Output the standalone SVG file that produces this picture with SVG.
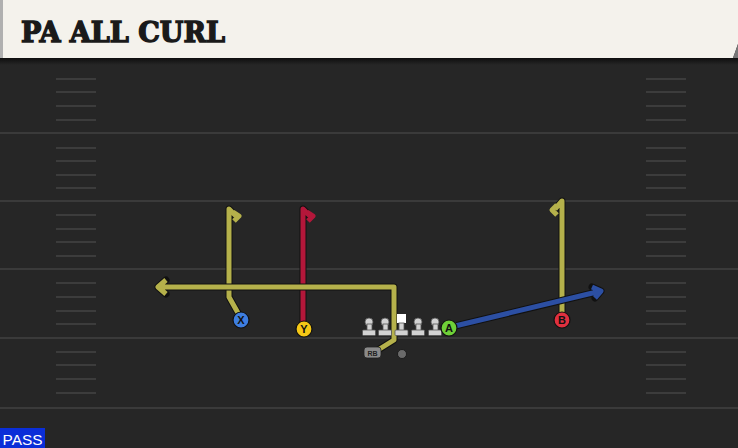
<svg xmlns="http://www.w3.org/2000/svg" width="738" height="448" viewBox="0 0 738 448">
<defs>
<style>
.yl{stroke:#3a3a3a;stroke-width:2}
.hash{stroke:#3c3c3c;stroke-width:2}
.out{fill:none;stroke:#111;stroke-width:7;stroke-linejoin:round;stroke-linecap:round}
.olive{fill:none;stroke:#b5b14b;stroke-width:5;stroke-linejoin:round}
.red{fill:none;stroke:#b3173a;stroke-width:5;stroke-linejoin:round}
.blue{fill:none;stroke:#2c4fa3;stroke-width:5;stroke-linejoin:round}
.lbl{font-family:"Liberation Sans",Arial,sans-serif;font-weight:bold;font-size:11px;text-anchor:middle;fill:#111}
.ol{fill:#d2d2d2;stroke:#555;stroke-width:0.8}
</style>
<linearGradient id="sh" x1="0" y1="0" x2="0" y2="1">
<stop offset="0" stop-color="#0e0e0e"/><stop offset="1" stop-color="#262626"/>
</linearGradient>
</defs>
<rect width="738" height="448" fill="#262626"/>
<rect x="0" y="58" width="738" height="7" fill="url(#sh)"/>
<g id="field">
<line class="yl" x1="0" y1="133" x2="738" y2="133"/>
<line class="yl" x1="0" y1="201" x2="738" y2="201"/>
<line class="yl" x1="0" y1="269" x2="738" y2="269"/>
<line class="yl" x1="0" y1="338" x2="738" y2="338"/>
<line class="yl" x1="0" y1="408" x2="738" y2="408"/>
<g id="hl">
<line class="hash" x1="56" y1="79" x2="96" y2="79"/><line class="hash" x1="56" y1="92" x2="96" y2="92"/><line class="hash" x1="56" y1="106" x2="96" y2="106"/><line class="hash" x1="56" y1="120" x2="96" y2="120"/>
<line class="hash" x1="56" y1="148" x2="96" y2="148"/><line class="hash" x1="56" y1="161" x2="96" y2="161"/><line class="hash" x1="56" y1="175" x2="96" y2="175"/><line class="hash" x1="56" y1="188" x2="96" y2="188"/>
<line class="hash" x1="56" y1="215" x2="96" y2="215"/><line class="hash" x1="56" y1="229" x2="96" y2="229"/><line class="hash" x1="56" y1="242" x2="96" y2="242"/><line class="hash" x1="56" y1="256" x2="96" y2="256"/>
<line class="hash" x1="56" y1="283" x2="96" y2="283"/><line class="hash" x1="56" y1="297" x2="96" y2="297"/><line class="hash" x1="56" y1="311" x2="96" y2="311"/><line class="hash" x1="56" y1="324" x2="96" y2="324"/>
<line class="hash" x1="56" y1="352" x2="96" y2="352"/><line class="hash" x1="56" y1="365" x2="96" y2="365"/><line class="hash" x1="56" y1="379" x2="96" y2="379"/><line class="hash" x1="56" y1="393" x2="96" y2="393"/>
</g>
<use href="#hl" x="590"/>
</g>
<g id="header">
<path d="M0,0 H738 V44 L733,58 H0 Z" fill="#f4f2ec"/>
<rect x="0" y="0" width="3" height="58" fill="#b0b0b0"/>
<path d="M738,44 L733,58 H738 Z" fill="#777"/>
<text x="21" y="42" font-family="'DejaVu Serif',serif" font-weight="bold" font-size="27" textLength="204" lengthAdjust="spacingAndGlyphs" fill="#1a1a1a" stroke="#1a1a1a" stroke-width="1.4">PA ALL CURL</text>
</g>
<g id="connectors">
<path class="out" d="M238,313 L229,297 L229,209 L236,216"/>
<path class="olive" d="M238,313 L229,297 L229,209 L236,216"/>
<path class="olive" d="M233,212 L239,216 L234,221" stroke-width="4"/>
<path class="out" d="M303,322 V209 L310,216"/>
<path class="red" d="M303,322 V209 L310,216"/>
<path class="red" d="M307,212 L313,216 L308,221" stroke-width="4"/>
<path class="out" d="M378,350 L394,340 V287 H158 M166,280 L158,287 L166,294"/>
<path class="olive" d="M378,350 L394,340 V287 H158 M166,280 L158,287 L166,294"/>
<path class="out" d="M562,314 V201 L555,209"/>
<path class="olive" d="M562,314 V201 L555,209"/>
<path class="olive" d="M557,205 L552,210 L557,215" stroke-width="4"/>
<path class="out" d="M455,326 L601,291 M592,287 L601,291 L595,298"/>
<path class="blue" d="M455,326 L601,291 M592,287 L601,291 L595,298"/>
</g>
<g id="LT"><circle class="ol" cx="369" cy="322" r="4"/><rect class="ol" x="367" y="324" width="5" height="7"/><rect class="ol" x="362.5" y="330" width="13" height="5.5" rx="1"/></g>
<g id="LG"><circle class="ol" cx="385" cy="322" r="4"/><rect class="ol" x="383" y="324" width="5" height="7"/><rect class="ol" x="378.5" y="330" width="13" height="5.5" rx="1"/></g>
<g id="C"><rect x="397" y="314" width="9" height="9" fill="#fff"/><rect class="ol" x="399" y="323" width="5" height="8"/><rect class="ol" x="395" y="330" width="13" height="5.5" rx="1"/></g>
<g id="RG"><circle class="ol" cx="418" cy="322" r="4"/><rect class="ol" x="416" y="324" width="5" height="7"/><rect class="ol" x="411.5" y="330" width="13" height="5.5" rx="1"/></g>
<g id="RT"><circle class="ol" cx="435" cy="322" r="4"/><rect class="ol" x="433" y="324" width="5" height="7"/><rect class="ol" x="428.5" y="330" width="13" height="5.5" rx="1"/></g>
<g id="QB"><circle cx="402" cy="354" r="4.5" fill="#6a6a6a" stroke="#111" stroke-width="0.8"/></g>
<g id="RB"><rect x="364" y="347" width="17" height="11" rx="3" fill="#8a8a8a" stroke="#222" stroke-width="0.8"/><text x="372.5" y="356" font-family="'Liberation Sans',Arial,sans-serif" font-weight="bold" font-size="7" text-anchor="middle" fill="#222">RB</text></g>
<g id="X"><circle cx="241" cy="320" r="8" fill="#3e7ee0" stroke="#111" stroke-width="1.2"/><text class="lbl" x="241" y="324">X</text></g>
<g id="Y"><circle cx="304" cy="329" r="8" fill="#f5c816" stroke="#111" stroke-width="1.2"/><text class="lbl" x="304" y="333">Y</text></g>
<g id="A"><circle cx="449" cy="328" r="8" fill="#6fd038" stroke="#111" stroke-width="1.2"/><text class="lbl" x="449" y="332">A</text></g>
<g id="B"><circle cx="562" cy="320" r="8" fill="#e0303f" stroke="#111" stroke-width="1.2"/><text class="lbl" x="562" y="324">B</text></g>
<g id="pass"><rect x="0" y="428" width="45" height="20" fill="#0a2ed8"/><text x="22.5" y="444.5" font-family="'Liberation Sans',Arial,sans-serif" font-size="15" text-anchor="middle" fill="#fff" textLength="40" lengthAdjust="spacingAndGlyphs">PASS</text></g>
</svg>
